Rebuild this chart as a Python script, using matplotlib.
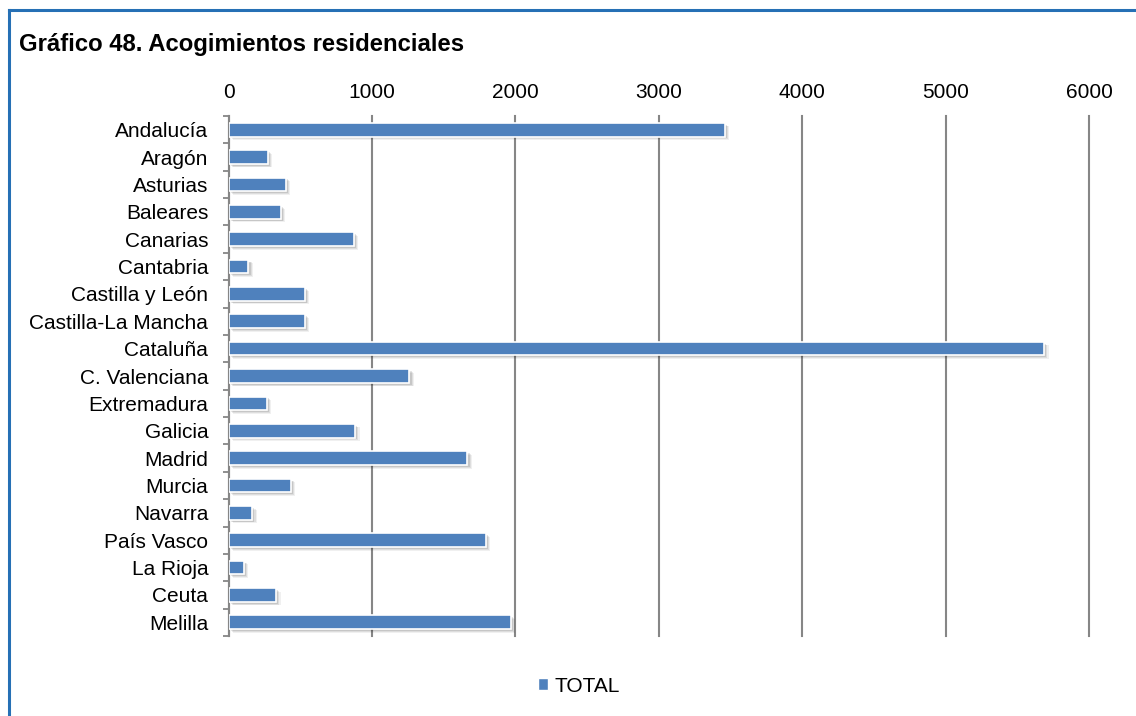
import matplotlib
matplotlib.use("Agg")
import matplotlib.pyplot as plt
from matplotlib.patches import Patch
from matplotlib.lines import Line2D
import numpy as np

plt.rcParams['font.family'] = ['Liberation Sans', 'DejaVu Sans']

categories = ["Andalucía", "Aragón", "Asturias", "Baleares", "Canarias", "Cantabria",
              "Castilla y León", "Castilla-La Mancha", "Cataluña", "C. Valenciana",
              "Extremadura", "Galicia", "Madrid", "Murcia", "Navarra", "País Vasco",
              "La Rioja", "Ceuta", "Melilla"]
values = [3460, 274, 400, 365, 875, 139, 530, 533, 5687, 1262,
          267, 883, 1666, 435, 166, 1792, 106, 332, 1969]
xticks = [0, 1000, 2000, 3000, 4000, 5000, 6000]
title = "Gráfico 48. Acogimientos residenciales"
series_name = "TOTAL"

W, H = 1136, 716
fig = plt.figure(figsize=(W/100, H/100), dpi=100)

# Outer blue frame (top and left visible)
fig.add_artist(Line2D([9/W, 9/W], [0, 1 - 10/H], color="#2670B5", lw=2.2, transform=fig.transFigure))
fig.add_artist(Line2D([9/W, 1], [1 - 10/H, 1 - 10/H], color="#2670B5", lw=2.2, transform=fig.transFigure))

fig.text(19/W, 1 - 44/H, title, fontsize=17.2, fontweight='bold', va='center', ha='left')

left, right, top, bottom = 228.5, 1089, 116, 636
ax = fig.add_axes([left/W, 1 - bottom/H, (right-left)/W, (bottom-top)/H])

n = len(categories)
y = np.arange(n)
bar_color = "#4F81BD"
# soft shadow
for k, a in [(0, 0.10), (1, 0.08), (2, 0.06)]:
    ax.barh(y + 0.07 + 0.03*k, values, height=0.5, left=15 + 8*k, color="#000000",
            alpha=a, zorder=2, linewidth=0)
ax.barh(y, values, height=0.5, color=bar_color, edgecolor="white", linewidth=1.2, zorder=3)

ax.set_xlim(0, 6000)
ax.set_ylim(n - 0.5, -0.5)
ax.set_xticks(xticks)
ax.xaxis.tick_top()
ax.tick_params(axis='x', length=0, labelsize=15, pad=10)
ax.grid(axis='x', color="#868686", linewidth=1.5, zorder=0)
for gl in ax.get_xgridlines():
    gl.set_clip_on(False)
ax.set_axisbelow(True)

ax.set_yticks(y)
ax.set_yticklabels(categories)
ax.tick_params(axis='y', length=0, labelsize=15, pad=14.5)
ax.set_yticks(np.arange(n + 1) - 0.5, minor=True)
ax.tick_params(axis='y', which='minor', length=4.5, width=1.3, color="#868686")

for s in ['top', 'right', 'bottom']:
    ax.spines[s].set_visible(False)
ax.spines['left'].set_color("#868686")
ax.spines['left'].set_linewidth(1.5)

handle = Patch(facecolor=bar_color, edgecolor='white')
fig.legend([handle], [series_name], loc='center', bbox_to_anchor=(579/W, 1 - 686/H),
           frameon=False, fontsize=15, handlelength=0.5, handleheight=0.5, handletextpad=0.3)

fig.savefig("out.png", dpi=100, facecolor='white')
